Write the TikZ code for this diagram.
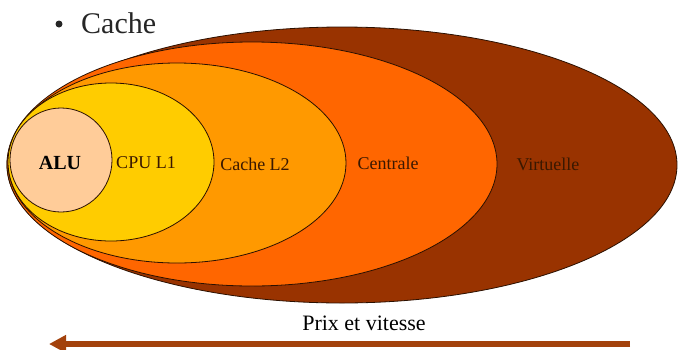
\documentclass[tikz,border=0pt]{standalone}
\usepackage{fontspec}
\setmainfont{Liberation Serif}
\usetikzlibrary{arrows.meta}
\definecolor{cvirt}{HTML}{993300}
\definecolor{ccent}{HTML}{FF6600}
\definecolor{cl2}{HTML}{FF9900}
\definecolor{cl1}{HTML}{FFCC00}
\definecolor{calu}{HTML}{FFCC99}
\definecolor{cline}{HTML}{2B1000}
\definecolor{ctext}{HTML}{3A1800}
\definecolor{carrow}{HTML}{A3420C}
\tikzset{
  level/.style={draw=cline, line width=0.8pt},
  lab/.style={text=ctext, font=\fontsize{18}{20}\selectfont, inner sep=0pt},
}
\begin{document}
\begin{tikzpicture}[x=1pt,y=-1pt]
\useasboundingbox (0,0) rectangle (678,349);
\fill[white] (0,0) rectangle (678,349);
% nested levels
\path[level, fill=cvirt] (342,165) ellipse [x radius=335, y radius=138];
\path[level, fill=ccent] (252,164) ellipse [x radius=245, y radius=122];
\path[level, fill=cl2] (177,163) ellipse [x radius=169, y radius=100];
\path[level, fill=cl1] (111,162) ellipse [x radius=103, y radius=79];
\path[level, fill=calu] (61,160) ellipse [x radius=51, y radius=52];
% labels
\node[lab, text=black, font=\bfseries\fontsize{20}{22}\selectfont] (alu) at (60,163) {ALU};
\node[lab] (l1) at (146,163) {CPU L1};
\node[lab] (l2) at (255,164) {Cache L2};
\node[lab] (cent) at (388,163) {Centrale};
\node[lab] (virt) at (548,164) {Virtuelle};
% title
\node[circle, fill=black!85, inner sep=0pt, minimum size=7pt] (bul) at (59,24) {};
\node[inner sep=0pt, anchor=base west, font=\fontsize{30}{32}\selectfont, text=black!85] (title) at (81,33) {Cache};
% price and speed arrow
\node[inner sep=0pt, font=\fontsize{22}{24}\selectfont] (prix) at (364,323) {Prix et vitesse};
\coordinate (astart) at (630,344);
\coordinate (aend) at (49,344);
\draw[carrow, line width=6pt, -{Triangle[length=17pt,width=17pt]}] (astart) -- (aend);
\end{tikzpicture}
\end{document}
